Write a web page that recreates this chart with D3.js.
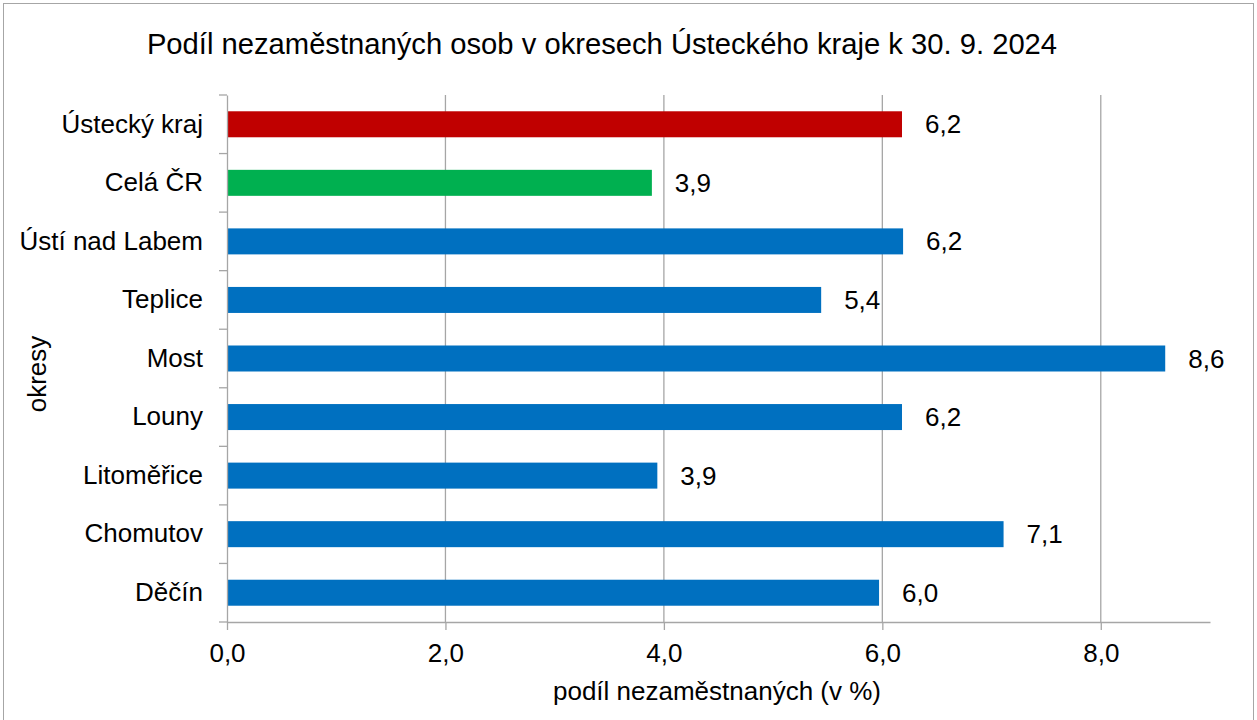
<!DOCTYPE html>
<html>
<head>
<meta charset="utf-8">
<script src="https://cdn.jsdelivr.net/npm/d3@7"></script>
<style>
  body { margin: 0; background: #fff; }
  text { font-family: "Liberation Sans", Arial, sans-serif; fill: #000; }
</style>
</head>
<body>
<div id="chart"></div>
<script>
//categories from top to bottom, as in the chart
var districts = ["Ústecký kraj", "Celá ČR", "Ústí nad Labem", "Teplice", "Most", "Louny", "Litoměřice", "Chomutov", "Děčín"];
//share of unemployed persons (%)
var shares = [6.18, 3.89, 6.19, 5.44, 8.59, 6.18, 3.94, 7.11, 5.97];
var xTicks = [0, 2, 4, 6, 8];

var width = 1257,
  height = 720;

var svg = d3.select("#chart").append("svg")
  .attr("width", width)
  .attr("height", height);

//outer frame of the chart area
svg.append("rect")
  .attr("x", 3.5).attr("y", 3.5)
  .attr("width", 1250).attr("height", 740)
  .attr("fill", "none")
  .attr("stroke", "#a6a6a6");

var x = d3.scaleLinear().domain([0, 9]).range([227, 1210]);
var y = d3.scaleBand().domain(districts).range([95, 622])
  .paddingInner(0.556).paddingOuter(0.278);

//colour by row: region red, whole country green, districts blue
function barColor(d, i) {
  if (i == 0) return "#C00000";
  if (i == 1) return "#00B050";
  return "#0070C0";
}

var fmt = function(v) { return d3.format(".1f")(v).replace(".", ","); };

//vertical gridlines
svg.selectAll(".grid")
  .data(xTicks.filter(function(t) { return t > 0; }))
  .enter().append("line")
  .attr("x1", function(d) { return x(d); })
  .attr("x2", function(d) { return x(d); })
  .attr("y1", 95).attr("y2", 622)
  .attr("stroke", "#a6a6a6")
  .attr("stroke-width", 1.3);

//bars
svg.selectAll(".bar")
  .data(shares)
  .enter().append("rect")
  .attr("x", x(0))
  .attr("y", function(d, i) { return y(districts[i]); })
  .attr("width", function(d) { return x(d) - x(0); })
  .attr("height", y.bandwidth())
  .attr("fill", barColor);

//value labels
svg.selectAll(".val")
  .data(shares)
  .enter().append("text")
  .attr("x", function(d) { return x(d) + 23; })
  .attr("y", function(d, i) { return y(districts[i]) + y.bandwidth() / 2; })
  .attr("dy", "0.35em")
  .style("font-size", "26px")
  .text(fmt);

//x axis
var xAxis = svg.append("g")
  .attr("transform", "translate(0,622)")
  .call(d3.axisBottom(x).tickValues(xTicks).tickSize(8).tickSizeOuter(0).tickPadding(14).tickFormat(fmt));
xAxis.select(".domain").attr("stroke", "#a6a6a6").attr("stroke-width", 1.3);
xAxis.selectAll(".tick line").attr("stroke", "#a6a6a6").attr("stroke-width", 1.3);
xAxis.selectAll("text").style("font-size", "26px").attr("fill", "#000");

//y axis: labels at band centres, ticks between categories
var yAxis = svg.append("g")
  .attr("transform", "translate(227,0)")
  .call(d3.axisLeft(y).tickSize(0).tickPadding(24));
yAxis.select(".domain").attr("stroke", "#a6a6a6").attr("stroke-width", 1.3);
yAxis.selectAll("text").style("font-size", "26px").attr("fill", "#000");

var bounds = d3.range(districts.length + 1).map(function(i) { return y.range()[0] + i * y.step(); });
svg.selectAll(".ytick")
  .data(bounds)
  .enter().append("line")
  .attr("x1", 219).attr("x2", 227)
  .attr("y1", function(d) { return d; })
  .attr("y2", function(d) { return d; })
  .attr("stroke", "#a6a6a6")
  .attr("stroke-width", 1.3);

//titles
svg.append("text")
  .attr("x", 602).attr("y", 54)
  .attr("text-anchor", "middle")
  .style("font-size", "29.2px")
  .text("Podíl nezaměstnaných osob v okresech Ústeckého kraje k 30. 9. 2024");

svg.append("text")
  .attr("x", 717).attr("y", 700)
  .attr("text-anchor", "middle")
  .style("font-size", "26px")
  .text("podíl nezaměstnaných (v %)");

svg.append("text")
  .attr("transform", "translate(46,374) rotate(-90)")
  .attr("text-anchor", "middle")
  .style("font-size", "26px")
  .text("okresy");
</script>
</body>
</html>
